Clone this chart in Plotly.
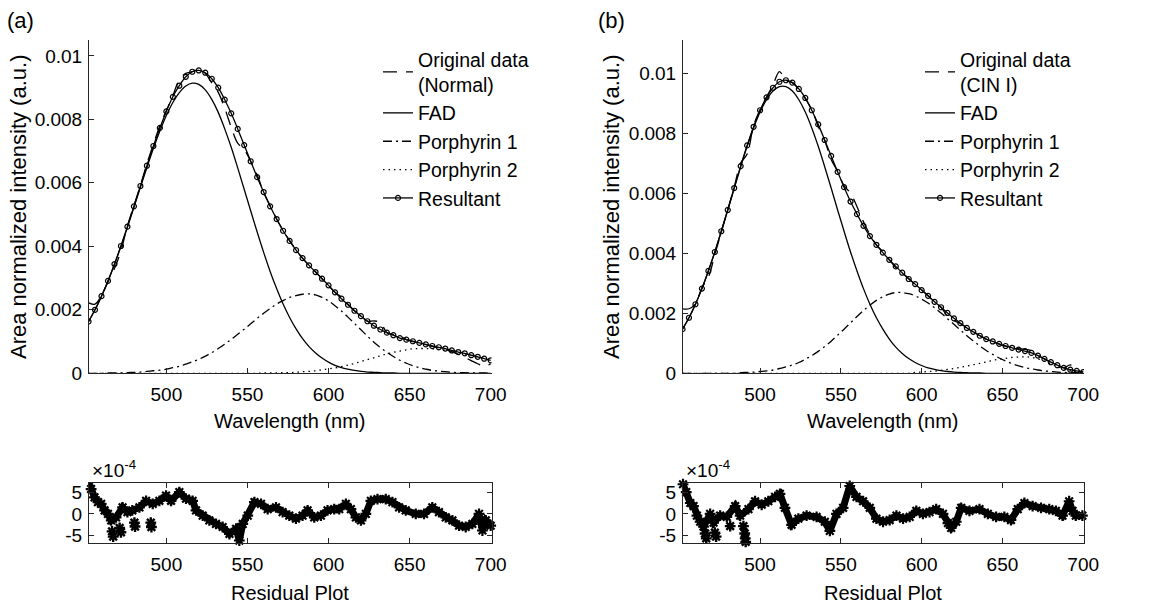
import plotly.graph_objects as go

# ---------------- data ----------------
wl = list(range(452, 701, 4))  # wavelength grid (nm)

# Panel (a) - Normal
orig_a = [0.00222, 0.00218, 0.00245, 0.00288, 0.00330, 0.00385, 0.00465, 0.00528, 0.00592, 0.00660,
          0.00722, 0.00780, 0.00828, 0.00875, 0.00925, 0.00945, 0.00950, 0.00958, 0.00945, 0.00915,
          0.00885, 0.00835, 0.00775, 0.00725, 0.00705, 0.00668, 0.00625, 0.00570, 0.00528, 0.00486,
          0.00450, 0.00418, 0.00388, 0.00362, 0.00340, 0.00320, 0.00298, 0.00276, 0.00255, 0.00240,
          0.00218, 0.00197, 0.00180, 0.00164, 0.00165, 0.00160, 0.00128, 0.00122, 0.00118, 0.00106,
          0.00100, 0.00096, 0.00090, 0.00085, 0.00080, 0.00076, 0.00068, 0.00060, 0.00050, 0.00040,
          0.00030, 0.00022, 0.00030]
fad_a = [0.00163, 0.00200, 0.00243, 0.00290, 0.00343, 0.00400, 0.00460, 0.00523, 0.00586, 0.00648,
         0.00708, 0.00763, 0.00812, 0.00853, 0.00884, 0.00905, 0.00914, 0.00910, 0.00893, 0.00863,
         0.00822, 0.00770, 0.00712, 0.00647, 0.00580, 0.00512, 0.00445, 0.00381, 0.00321, 0.00267,
         0.00218, 0.00176, 0.00140, 0.00109, 0.00084, 0.00064, 0.00048, 0.00035, 0.00025, 0.00018,
         0.00013, 0.00009, 0.00006, 0.00004, 0.00003, 0.00002, 0.00001, 0.00001, 0.0, 0.0,
         0.0, 0.0, 0.0, 0.0, 0.0, 0.0, 0.0, 0.0, 0.0, 0.0,
         0.0, 0.0, 0.0]
por1_a = [0.0, 0.0, 0.0, 0.00001, 0.00001, 0.00001, 0.00002, 0.00003, 0.00004, 0.00006,
          0.00008, 0.00010, 0.00013, 0.00018, 0.00022, 0.00029, 0.00036, 0.00044, 0.00054, 0.00065,
          0.00078, 0.00092, 0.00107, 0.00123, 0.00139, 0.00156, 0.00173, 0.00189, 0.00204, 0.00218,
          0.00229, 0.00239, 0.00245, 0.00249, 0.00250, 0.00247, 0.00239, 0.00228, 0.00213, 0.00196,
          0.00177, 0.00157, 0.00137, 0.00117, 0.00098, 0.00081, 0.00066, 0.00053, 0.00041, 0.00032,
          0.00024, 0.00018, 0.00013, 0.00009, 0.00007, 0.00005, 0.00003, 0.00002, 0.00002, 0.00001,
          0.00001, 0.00001, 0.0]
por2_a = [0.0, 0.0, 0.0, 0.0, 0.0, 0.0, 0.0, 0.0, 0.0, 0.0,
          0.0, 0.0, 0.0, 0.0, 0.0, 0.0, 0.0, 0.0, 0.0, 0.0,
          0.0, 0.0, 0.0, 0.0, 0.0, 0.0, 0.0, 0.00001, 0.00001, 0.00001,
          0.00002, 0.00002, 0.00003, 0.00005, 0.00006, 0.00008, 0.00011, 0.00014, 0.00017, 0.00021,
          0.00026, 0.00031, 0.00037, 0.00043, 0.00049, 0.00055, 0.00061, 0.00066, 0.00070, 0.00074,
          0.00077, 0.00078, 0.00078, 0.00077, 0.00075, 0.00073, 0.00069, 0.00065, 0.00061, 0.00056,
          0.00051, 0.00046, 0.00041]
res_a = [0.00163, 0.00200, 0.00243, 0.00291, 0.00344, 0.00401, 0.00462, 0.00526, 0.00590, 0.00654,
         0.00716, 0.00773, 0.00825, 0.00871, 0.00906, 0.00934, 0.00950, 0.00954, 0.00947, 0.00928,
         0.00900, 0.00862, 0.00819, 0.00770, 0.00719, 0.00668, 0.00618, 0.00571, 0.00526, 0.00486,
         0.00449, 0.00417, 0.00388, 0.00363, 0.00340, 0.00319, 0.00298, 0.00277, 0.00255, 0.00235,
         0.00216, 0.00197, 0.00180, 0.00164, 0.00150, 0.00138, 0.00128, 0.00120, 0.00111, 0.00106,
         0.00101, 0.00096, 0.00091, 0.00086, 0.00082, 0.00078, 0.00072, 0.00067, 0.00063, 0.00057,
         0.00052, 0.00046, 0.00041]

# Panel (b) - CIN I
orig_b = [0.00215, 0.00215, 0.00232, 0.00285, 0.00320, 0.00395, 0.00470, 0.00545, 0.00620, 0.00700,
          0.00730, 0.00825, 0.00878, 0.00920, 0.00960, 0.01005, 0.00975, 0.00968, 0.00945, 0.00915,
          0.00878, 0.00822, 0.00775, 0.00712, 0.00672, 0.00625, 0.00600, 0.00555, 0.00505, 0.00462,
          0.00428, 0.00405, 0.00378, 0.00352, 0.00335, 0.00316, 0.00296, 0.00278, 0.00258, 0.00237,
          0.00220, 0.00190, 0.00175, 0.00166, 0.00150, 0.00138, 0.00126, 0.00114, 0.00105, 0.00097,
          0.00090, 0.00086, 0.00082, 0.00080, 0.00075, 0.00060, 0.00048, 0.00036, 0.00027, 0.00018,
          0.00028, 0.00010, 0.00004]
fad_b = [0.00147, 0.00185, 0.00230, 0.00282, 0.00341, 0.00404, 0.00473, 0.00544, 0.00617, 0.00688,
         0.00756, 0.00817, 0.00870, 0.00911, 0.00940, 0.00955, 0.00955, 0.00940, 0.00911, 0.00870,
         0.00817, 0.00756, 0.00688, 0.00617, 0.00544, 0.00473, 0.00404, 0.00341, 0.00282, 0.00230,
         0.00185, 0.00147, 0.00114, 0.00087, 0.00066, 0.00049, 0.00036, 0.00026, 0.00018, 0.00013,
         0.00009, 0.00006, 0.00004, 0.00003, 0.00002, 0.00001, 0.00001, 0.0, 0.0, 0.0,
         0.0, 0.0, 0.0, 0.0, 0.0, 0.0, 0.0, 0.0, 0.0, 0.0,
         0.0, 0.0, 0.0]
por1_b = [0.0, 0.0, 0.0, 0.0, 0.0, 0.0, 0.0, 0.0, 0.0, 0.00002,
          0.00003, 0.00004, 0.00006, 0.00008, 0.00011, 0.00016, 0.00021, 0.00028, 0.00036, 0.00047,
          0.00059, 0.00073, 0.00089, 0.00107, 0.00127, 0.00147, 0.00168, 0.00189, 0.00209, 0.00227,
          0.00243, 0.00255, 0.00264, 0.00269, 0.00269, 0.00265, 0.00258, 0.00247, 0.00234, 0.00218,
          0.00201, 0.00182, 0.00163, 0.00144, 0.00125, 0.00108, 0.00091, 0.00076, 0.00063, 0.00051,
          0.00041, 0.00032, 0.00025, 0.00019, 0.00015, 0.00011, 0.00008, 0.00006, 0.00004, 0.00003,
          0.00002, 0.00002, 0.00001]
por2_b = [0.0, 0.0, 0.0, 0.0, 0.0, 0.0, 0.0, 0.0, 0.0, 0.0,
          0.0, 0.0, 0.0, 0.0, 0.0, 0.0, 0.0, 0.0, 0.0, 0.0,
          0.0, 0.0, 0.0, 0.0, 0.0, 0.0, 0.0, 0.0, 0.0, 0.0,
          0.0, 0.0, 0.0, 0.0, 0.0, 0.0, 0.00003, 0.00004, 0.00006, 0.00007,
          0.00010, 0.00013, 0.00016, 0.00020, 0.00024, 0.00029, 0.00033, 0.00038, 0.00043, 0.00047,
          0.00050, 0.00053, 0.00054, 0.00055, 0.00053, 0.00048, 0.00040, 0.00031, 0.00023, 0.00015,
          0.00010, 0.00006, 0.00003]
res_b = [0.00147, 0.00185, 0.00230, 0.00282, 0.00341, 0.00404, 0.00473, 0.00544, 0.00617, 0.00690,
         0.00759, 0.00821, 0.00876, 0.00919, 0.00951, 0.00971, 0.00976, 0.00968, 0.00947, 0.00917,
         0.00876, 0.00829, 0.00777, 0.00724, 0.00671, 0.00620, 0.00572, 0.00530, 0.00491, 0.00457,
         0.00428, 0.00402, 0.00378, 0.00356, 0.00335, 0.00314, 0.00297, 0.00277, 0.00258, 0.00238,
         0.00220, 0.00201, 0.00183, 0.00167, 0.00151, 0.00138, 0.00125, 0.00114, 0.00106, 0.00098,
         0.00091, 0.00085, 0.00079, 0.00074, 0.00068, 0.00059, 0.00048, 0.00037, 0.00027, 0.00018,
         0.00012, 0.00008, 0.00004]

# Residuals (units of 1e-4)
resid_a_x = [452.2, 453.6, 455.7, 457.8, 459.8, 461.9, 464, 466, 469, 473, 476, 479, 483.4, 487.5,
             491.6, 495.7, 499.8, 502.9, 508, 512.1, 516.2, 518.3, 522.4, 526.5, 530.6, 534.7, 538.9,
             543, 545, 547.1, 550.2, 554.3, 558.4, 562.5, 567.6, 571.7, 575.8, 579.9, 584, 587.1,
             591.2, 595.3, 599.4, 603.5, 606.6, 610.7, 613.8, 616.9, 620, 623, 626.1, 630.2, 635.3,
             639.4, 643.5, 647.6, 653.8, 658.9, 664, 668.1, 672.3, 676.4, 680.5, 684.6, 688.7,
             692.8, 694.9, 697, 700]
resid_a_y = [7.2, 5.7, 3.8, 2.7, 2.3, 0.8, 0.0, -1.5, -0.8, 1.5, 0.4, 0.8, 1.5, 3.0,
             2.3, 3.0, 4.2, 3.0, 5.0, 3.5, 3.0, 0.8, -0.4, -1.5, -2.3, -3.0, -4.6,
             -3.4, -6.1, -2.3, -0.4, 2.7, 2.3, 1.1, 1.5, 0.4, -0.4, -1.1, -0.4, 0.8,
             -0.8, -0.4, 0.8, 1.1, 1.1, 2.3, 1.1, -0.8, -1.5, 0.0, 3.0, 3.4, 3.4,
             2.7, 1.5, 0.8, 0.0, 0.0, 1.5, 0.4, -0.8, -1.5, -2.7, -3.0, -2.3,
             0.0, -3.8, -1.5, -2.7]
out_a_x = [466.5, 467.2, 471.2, 472.0, 480.3, 480.7, 490.4, 490.8]
out_a_y = [-4.0, -5.2, -3.2, -4.2, -2.0, -2.9, -2.0, -3.0]

resid_b_x = [452.3, 454.3, 456.8, 458.8, 460.9, 462.9, 465, 469.1, 471.2, 475.3, 479.4, 484.6,
             487.7, 492.8, 496.9, 501, 505.1, 509.3, 512.3, 515.4, 519.5, 523.7, 528.8, 535,
             540.1, 543.2, 547.3, 551.4, 555.5, 559.7, 563.8, 567.9, 572, 576.1, 580.2, 584.4,
             588.5, 592.6, 596.7, 600.8, 604.9, 609, 613.2, 616.3, 618.3, 621.4, 624.5, 629.6,
             635.8, 641, 646.1, 651.2, 655.3, 659.5, 663.6, 668.7, 673.9, 679, 683.1, 687.2,
             691.3, 693.4, 695.4, 699.5]
resid_b_y = [6.8, 5.0, 2.5, 1.8, -0.4, -1.8, -2.9, 0.0, -2.0, -0.4, -0.7, 1.8,
             -0.4, 1.1, 2.9, 2.1, 2.9, 3.9, 4.6, 1.4, -2.5, -1.1, -0.4, -0.7,
             -1.8, -3.9, 0.0, 1.4, 6.4, 3.9, 2.9, 1.4, -1.1, -1.8, -1.4, -0.4,
             -1.1, -0.7, 0.7, 0.0, 0.4, 1.1, 0.0, -2.1, -3.2, -1.8, 1.4, 0.7,
             1.1, 0.0, -0.7, -0.7, -1.4, 1.1, 2.5, 1.8, 1.4, 1.1, 0.7, -0.4,
             2.9, 0.7, -0.4, -0.4]
out_b_x = [466.0, 466.7, 472.0, 472.8, 481.5, 489.7, 490.5, 490.8, 491.1]
out_b_y = [-4.5, -5.6, -4.3, -5.2, -2.8, -2.8, -4.5, -5.6, -6.4]

main_yticks = [0, 0.002, 0.004, 0.006, 0.008, 0.01]
main_yticktext = ["0", "0.002", "0.004", "0.006", "0.008", "0.01"]
xticks = [500, 550, 600, 650, 700]
resid_yticks = [-5, 0, 5]
resid_yticktext = ["-5", "0", "5"]

# ---------------- figure ----------------
W, H = 1161, 610
FONT = "Liberation Sans, Arial, Helvetica, sans-serif"
FS_TICK = 19
FS_LAB = 20
FS_LEG = 19.5
AX = "#262626"

fig = go.Figure()

def px_x(p):
    return p / W

def px_y(p):
    return 1 - p / H

panels = [
    dict(orig=orig_a, fad=fad_a, p1=por1_a, p2=por2_a, res=res_a, name="(Normal)",
         xa="x", ya="y", xr="x3", yr="y3", legend="legend",
         rx=resid_a_x, ry=resid_a_y, ox=out_a_x, oy=out_a_y),
    dict(orig=orig_b, fad=fad_b, p1=por1_b, p2=por2_b, res=res_b, name="(CIN I)",
         xa="x2", ya="y2", xr="x4", yr="y4", legend="legend2",
         rx=resid_b_x, ry=resid_b_y, ox=out_b_x, oy=out_b_y),
]

for i, p in enumerate(panels):
    lw = 1.3
    fig.add_trace(go.Scatter(x=wl, y=p["orig"], mode="lines", xaxis=p["xa"], yaxis=p["ya"],
                             name="Original data<br>" + p["name"], legend=p["legend"],
                             legendgroup=f"o{i}",
                             line=dict(color="black", width=lw, dash="14px,9px", shape="spline")))
    fig.add_trace(go.Scatter(x=wl, y=p["fad"], mode="lines", xaxis=p["xa"], yaxis=p["ya"],
                             name="FAD", legend=p["legend"], legendgroup=f"f{i}",
                             line=dict(color="black", width=lw, shape="spline")))
    fig.add_trace(go.Scatter(x=wl, y=p["p1"], mode="lines", xaxis=p["xa"], yaxis=p["ya"],
                             name="Porphyrin 1", legend=p["legend"], legendgroup=f"p1{i}",
                             line=dict(color="black", width=lw, dash="9px,4px,2px,4px", shape="spline")))
    fig.add_trace(go.Scatter(x=wl, y=p["p2"], mode="lines", xaxis=p["xa"], yaxis=p["ya"],
                             name="Porphyrin 2", legend=p["legend"], legendgroup=f"p2{i}",
                             line=dict(color="black", width=lw, dash="1.5px,4px", shape="spline")))
    fig.add_trace(go.Scatter(x=wl, y=p["res"], mode="lines+markers", xaxis=p["xa"], yaxis=p["ya"],
                             name="Resultant", legend=p["legend"], legendgroup=f"r{i}",
                             line=dict(color="black", width=lw, shape="spline"),
                             marker=dict(symbol="circle-open", size=5, color="black",
                                         line=dict(width=1.2, color="black"))))
    # residuals
    fig.add_trace(go.Scatter(x=p["rx"], y=p["ry"], mode="lines+markers", xaxis=p["xr"], yaxis=p["yr"],
                             showlegend=False, cliponaxis=False,
                             line=dict(color="black", width=7),
                             marker=dict(symbol="asterisk-open", size=9, color="black",
                                         line=dict(width=2.2, color="black"))))
    fig.add_trace(go.Scatter(x=p["ox"], y=p["oy"], mode="markers", xaxis=p["xr"], yaxis=p["yr"],
                             showlegend=False, cliponaxis=False,
                             marker=dict(symbol="asterisk-open", size=9, color="black",
                                         line=dict(width=2.4, color="black"))))

main_dom_y = [px_y(373.3), px_y(40)]
res_dom_y = [px_y(542.7), px_y(482.5)]
dom_a = [px_x(89), px_x(491.5)]
dom_b = [px_x(683), px_x(1084)]

common_x = dict(showline=True, linecolor=AX, linewidth=1, ticks="inside", ticklen=5, tickcolor=AX,
                tickvals=xticks, showgrid=False, zeroline=False, automargin=False,
                tickfont=dict(family=FONT, size=FS_TICK, color="black"), ticklabelstandoff=4)
fig.update_layout(
    xaxis=dict(domain=dom_a, range=[452.3, 700.5], anchor="y", **common_x),
    xaxis2=dict(domain=dom_b, range=[452.3, 700.5], anchor="y2", **common_x),
    xaxis3=dict(domain=dom_a, range=[452.3, 700.5], anchor="y3", mirror="ticks", **common_x),
    xaxis4=dict(domain=dom_b, range=[452.3, 700.5], anchor="y4", mirror="ticks", **common_x),
)
common_y = dict(showline=True, linecolor=AX, linewidth=1, ticks="inside", ticklen=5, tickcolor=AX,
                showgrid=False, zeroline=False, automargin=False,
                tickfont=dict(family=FONT, size=FS_TICK, color="black"), ticklabelstandoff=2)
fig.update_layout(
    yaxis=dict(domain=main_dom_y, range=[0, 0.0105], anchor="x", tickvals=main_yticks,
               ticktext=main_yticktext, **common_y),
    yaxis2=dict(domain=main_dom_y, range=[0, 0.0111], anchor="x2", tickvals=main_yticks,
                ticktext=main_yticktext, **common_y),
    yaxis3=dict(domain=res_dom_y, range=[-6.6, 7.2], anchor="x3", tickvals=resid_yticks,
                ticktext=resid_yticktext, mirror="ticks", **common_y),
    yaxis4=dict(domain=res_dom_y, range=[-6.6, 7.2], anchor="x4", tickvals=resid_yticks,
                ticktext=resid_yticktext, mirror="ticks", **common_y),
)

leg_common = dict(xref="paper", yref="paper", xanchor="left", yanchor="top",
                  bgcolor="rgba(0,0,0,0)", font=dict(family=FONT, size=FS_LEG, color="black"),
                  tracegroupgap=0, itemclick=False)
fig.update_layout(
    legend=dict(x=px_x(378), y=px_y(40), **leg_common),
    legend2=dict(x=px_x(920), y=px_y(40), **leg_common),
)

ann = []
def text(x, y, s, size=FS_LAB, angle=0, xanchor="center"):
    ann.append(dict(x=px_x(x), y=px_y(y), xref="paper", yref="paper", text=s, showarrow=False,
                    textangle=angle, xanchor=xanchor, yanchor="middle",
                    font=dict(family=FONT, size=size, color="black")))

text(290, 421, "Wavelength (nm)")
text(883, 421, "Wavelength (nm)")
text(18, 207, "Area normalized intensity (a.u.)", size=22, angle=-90)
text(611, 207, "Area normalized intensity (a.u.)", size=22, angle=-90)
text(290, 593, "Residual Plot")
text(883, 593, "Residual Plot")
text(5, 20, "(a)", size=22, xanchor="left")
text(596, 20, "(b)", size=22, xanchor="left")
text(90, 469, "×10<sup>-4</sup>", size=19, xanchor="left")
text(684, 469, "×10<sup>-4</sup>", size=19, xanchor="left")

fig.update_layout(annotations=ann, width=W, height=H,
                  margin=dict(l=0, r=0, t=0, b=0, autoexpand=False),
                  paper_bgcolor="white", plot_bgcolor="white", showlegend=True,
                  font=dict(family=FONT, size=FS_TICK, color="black"))

fig.write_html("out.html", config={"staticPlot": True, "displayModeBar": False},
               post_script="document.body.style.margin='0';document.body.style.padding='0';"
                           "document.documentElement.style.overflow='hidden';")
